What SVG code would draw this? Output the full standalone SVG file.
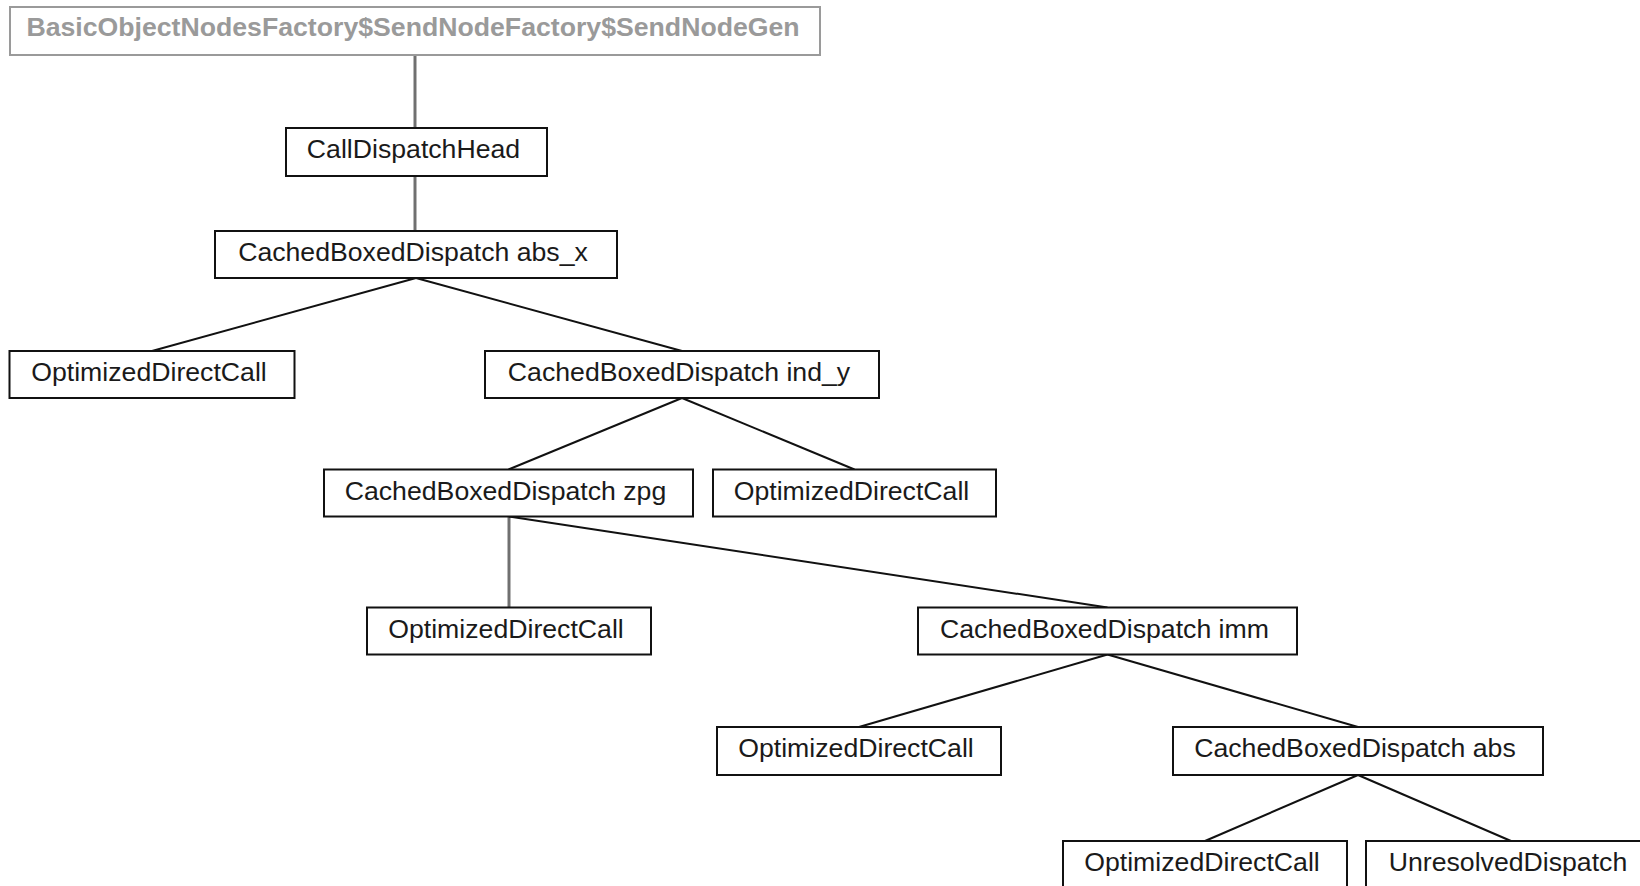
<svg xmlns="http://www.w3.org/2000/svg" width="1640" height="886" viewBox="0 0 1640 886">
  <style>
    .box { fill: #ffffff; stroke: #111111; stroke-width: 2; }
    .root { fill: #ffffff; stroke: #9a9a9a; stroke-width: 2; }
    .lbl { font-family: "Liberation Sans", Arial, sans-serif; font-size: 26.67px; fill: #1a1a1a; text-anchor: middle; }
    .rootlbl { font-family: "Liberation Sans", Arial, sans-serif; font-size: 26.67px; font-weight: bold; fill: #9a9a9a; text-anchor: middle; }
    .edge { stroke: #111111; stroke-width: 2; fill: none; }
    .vedge { stroke: #707070; stroke-width: 3; fill: none; }
  </style>
  <rect width="1640" height="886" fill="#ffffff"/>

  <!-- parent/child links of the dispatch tree -->
  <g id="connectors">
    <line class="vedge" x1="415" y1="55" x2="415" y2="128"/>
    <line class="vedge" x1="415" y1="176" x2="415" y2="231"/>
    <line class="edge" x1="416" y1="278" x2="152" y2="351"/>
    <line class="edge" x1="416" y1="278" x2="682" y2="351"/>
    <line class="edge" x1="682" y1="398" x2="508.5" y2="469.5"/>
    <line class="edge" x1="682" y1="398" x2="854.5" y2="469.5"/>
    <line class="vedge" x1="509" y1="516.5" x2="509" y2="607.5"/>
    <line class="edge" x1="509" y1="516.5" x2="1107.5" y2="607.5"/>
    <line class="edge" x1="1107.5" y1="654.5" x2="859" y2="727"/>
    <line class="edge" x1="1107.5" y1="654.5" x2="1358" y2="727"/>
    <line class="edge" x1="1358" y1="775" x2="1205" y2="841"/>
    <line class="edge" x1="1358" y1="775" x2="1511" y2="841"/>
  </g>

  <g id="sendNodeGen">
    <rect class="root" x="10" y="7" width="810" height="48"/>
    <text class="rootlbl" x="413" y="36">BasicObjectNodesFactory$SendNodeFactory$SendNodeGen</text>
  </g>
  <g id="callDispatchHead">
    <rect class="box" x="286" y="128" width="261" height="48"/>
    <text class="lbl" x="413.5" y="158">CallDispatchHead</text>
  </g>
  <g id="cachedAbsX">
    <rect class="box" x="215" y="231" width="402" height="47"/>
    <text class="lbl" x="413" y="261">CachedBoxedDispatch abs_x</text>
  </g>
  <g id="directCall1">
    <rect class="box" x="9.5" y="351" width="285" height="47"/>
    <text class="lbl" x="149" y="381">OptimizedDirectCall</text>
  </g>
  <g id="cachedIndY">
    <rect class="box" x="485" y="351" width="394" height="47"/>
    <text class="lbl" x="679" y="381">CachedBoxedDispatch ind_y</text>
  </g>
  <g id="cachedZpg">
    <rect class="box" x="324" y="469.5" width="369" height="47"/>
    <text class="lbl" x="505.5" y="499.5">CachedBoxedDispatch zpg</text>
  </g>
  <g id="directCall2">
    <rect class="box" x="713" y="469.5" width="283" height="47"/>
    <text class="lbl" x="851.5" y="499.5">OptimizedDirectCall</text>
  </g>
  <g id="directCall3">
    <rect class="box" x="367" y="607.5" width="284" height="47"/>
    <text class="lbl" x="506" y="637.5">OptimizedDirectCall</text>
  </g>
  <g id="cachedImm">
    <rect class="box" x="918" y="607.5" width="379" height="47"/>
    <text class="lbl" x="1104.5" y="637.5">CachedBoxedDispatch imm</text>
  </g>
  <g id="directCall4">
    <rect class="box" x="717" y="727" width="284" height="48"/>
    <text class="lbl" x="856" y="757">OptimizedDirectCall</text>
  </g>
  <g id="cachedAbs">
    <rect class="box" x="1173" y="727" width="370" height="48"/>
    <text class="lbl" x="1355" y="757">CachedBoxedDispatch abs</text>
  </g>
  <g id="directCall5">
    <rect class="box" x="1063" y="841" width="284" height="48"/>
    <text class="lbl" x="1202" y="871">OptimizedDirectCall</text>
  </g>
  <g id="unresolved">
    <rect class="box" x="1366" y="841" width="290" height="48"/>
    <text class="lbl" x="1508" y="871">UnresolvedDispatch</text>
  </g>
</svg>
